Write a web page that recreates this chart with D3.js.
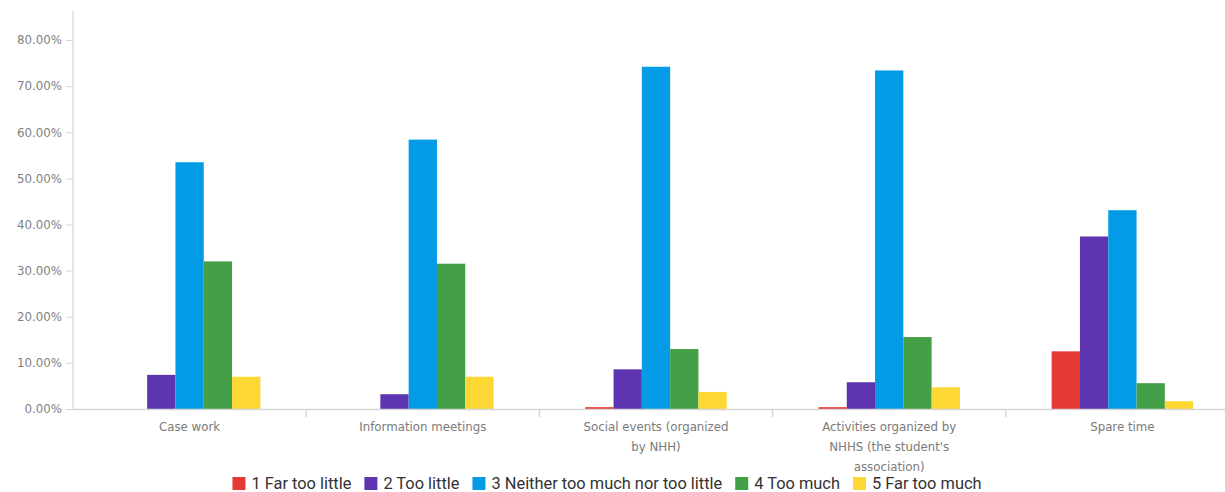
<!DOCTYPE html>
<html>
<head>
<meta charset="utf-8">
<script src="https://cdn.jsdelivr.net/npm/d3@7"></script>
<style>
  html, body { margin: 0; padding: 0; background: #fff; }
  svg { display: block; }
  text { font-family: Roboto, "Noto Sans", sans-serif; }
</style>
</head>
<body>
<svg id="chart" width="1225" height="492"></svg>
<script>
const categories = [
  "Case work",
  "Information meetings",
  "Social events (organized by NHH)",
  "Activities organized by NHHS (the student's association)",
  "Spare time"
];
const seriesNames = [
  "1 Far too little",
  "2 Too little",
  "3 Neither too much nor too little",
  "4 Too much",
  "5 Far too much"
];
const seriesColors = ["#e53935", "#5e35b1", "#039be5", "#43a047", "#fdd835"];
const s1 = [0.0, 0.0, 0.4, 0.4, 12.5];
const s2 = [7.4, 3.2, 8.6, 5.8, 37.4];
const s3 = [53.5, 58.4, 74.2, 73.4, 43.1];
const s4 = [32.0, 31.5, 13.0, 15.6, 5.6];
const s5 = [7.0, 7.0, 3.7, 4.7, 1.7];
const seriesValues = [s1, s2, s3, s4, s5];
const yTicks = [0, 10, 20, 30, 40, 50, 60, 70, 80];

(function () {
const svg = d3.select("#chart");
const left = 73, bottom = 409, topY = 11;
const bandW = 233.2;
const x0 = d3.scaleBand().domain(categories).range([left, left + bandW * categories.length]).paddingInner(0).paddingOuter(0);
const groupW = 141.5;
const x1 = d3.scaleBand().domain(seriesNames).range([0, groupW]).padding(0);
const y = d3.scaleLinear().domain([0, 80]).range([bottom, 40]);
const labelFont = '"DejaVu Sans", sans-serif';

// Y axis
const yAxis = d3.axisLeft(y).tickValues(yTicks).tickSize(7).tickPadding(4)
  .tickFormat(d => d.toFixed(2) + "%");
const yg = svg.append("g").attr("transform", `translate(${left},0)`).call(yAxis);
yg.select(".domain").remove();
yg.selectAll(".tick line").attr("stroke", "#d6d6d6");
yg.selectAll(".tick text").attr("fill", "#808080")
  .style("font-size", "11.8px").style("font-family", labelFont);
svg.append("line").attr("x1", left).attr("x2", left).attr("y1", topY).attr("y2", bottom + 1)
  .attr("stroke", "#dcdcdc").attr("stroke-width", 1.5);

// bars
const groups = svg.append("g").selectAll("g").data(categories).join("g")
  .attr("transform", d => `translate(${x0(d) + (bandW - groupW) / 2},0)`);
groups.selectAll("rect")
  .data((c, ci) => seriesNames.map((s, si) => ({ s, si, v: seriesValues[si][ci] })))
  .join("rect")
  .attr("x", d => x1(d.s))
  .attr("width", x1.bandwidth())
  .attr("y", d => y(d.v))
  .attr("height", d => bottom - y(d.v))
  .attr("fill", d => seriesColors[d.si]);

// X axis
svg.append("line").attr("x1", left).attr("x2", 1225).attr("y1", bottom + 0.5).attr("y2", bottom + 0.5)
  .attr("stroke", "#d6d6d6").attr("stroke-width", 1.5);
const sepPositions = categories.slice(1).map(c => x0(c));
svg.append("g").selectAll("line").data(sepPositions).join("line")
  .attr("x1", d => d).attr("x2", d => d).attr("y1", bottom).attr("y2", bottom + 8)
  .attr("stroke", "#d6d6d6").attr("stroke-width", 1.5);

// category labels with wrapping
function wrapLines(text, width, fontSize) {
  const tmp = svg.append("text").style("font-size", fontSize + "px").style("font-family", labelFont);
  const words = text.split(" ");
  const lines = [];
  let line = [];
  for (const w of words) {
    line.push(w);
    tmp.text(line.join(" "));
    if (tmp.node().getComputedTextLength() > width && line.length > 1) {
      line.pop();
      lines.push(line.join(" "));
      line = [w];
    }
  }
  lines.push(line.join(" "));
  tmp.remove();
  return lines;
}
const labelG = svg.append("g");
categories.forEach(c => {
  const lines = wrapLines(c, 155, 11.8);
  const t = labelG.append("text")
    .attr("x", x0(c) + bandW / 2)
    .attr("y", 431)
    .attr("text-anchor", "middle")
    .attr("fill", "#7a7a7a")
    .style("font-size", "11.8px")
    .style("font-family", labelFont);
  lines.forEach((l, i) => {
    t.append("tspan").attr("x", x0(c) + bandW / 2).attr("dy", i === 0 ? 0 : 20).text(l);
  });
});

// legend
const legend = svg.append("g");
const items = [];
seriesNames.forEach((s, i) => {
  const g = legend.append("g");
  g.append("rect").attr("x", 0).attr("y", -12).attr("width", 13).attr("height", 13).attr("fill", seriesColors[i]);
  const t = g.append("text").attr("x", 19).attr("y", 0).attr("fill", "#333")
    .style("font-size", "16.4px").text(s);
  items.push({ g, w: 19 + t.node().getComputedTextLength() });
});
const gap = 13;
const totalW = d3.sum(items, d => d.w) + gap * (items.length - 1);
let lx = 607 - totalW / 2;
items.forEach(it => {
  it.g.attr("transform", `translate(${lx},${489})`);
  lx += it.w + gap;
});
})();
</script>
</body>
</html>
